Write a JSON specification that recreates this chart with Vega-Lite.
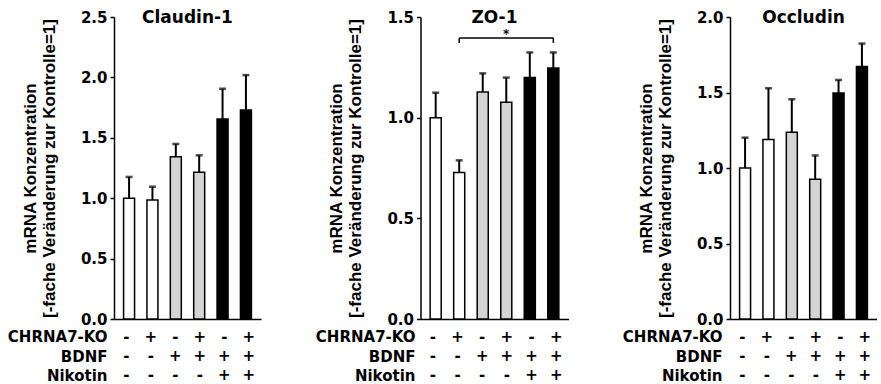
{
  "$schema": "https://vega.github.io/schema/vega-lite/v6.json",
  "padding": {"left": 7, "top": 9, "right": 0, "bottom": 0},
  "background": "white",
  "datasets": {
    "claudin": [
      {"g": "1", "grp": "Kontrolle", "mean": 1.0, "upper": 1.176},
      {"g": "2", "grp": "Kontrolle", "mean": 0.986, "upper": 1.095},
      {"g": "3", "grp": "BDNF", "mean": 1.344, "upper": 1.449},
      {"g": "4", "grp": "BDNF", "mean": 1.215, "upper": 1.355},
      {"g": "5", "grp": "BDNF + Nikotin", "mean": 1.655, "upper": 1.906},
      {"g": "6", "grp": "BDNF + Nikotin", "mean": 1.73, "upper": 2.019}
    ],
    "zo1": [
      {"g": "1", "grp": "Kontrolle", "mean": 1.0, "upper": 1.124},
      {"g": "2", "grp": "Kontrolle", "mean": 0.728, "upper": 0.788},
      {"g": "3", "grp": "BDNF", "mean": 1.128, "upper": 1.22},
      {"g": "4", "grp": "BDNF", "mean": 1.076, "upper": 1.199},
      {"g": "5", "grp": "BDNF + Nikotin", "mean": 1.2, "upper": 1.324},
      {"g": "6", "grp": "BDNF + Nikotin", "mean": 1.247, "upper": 1.324}
    ],
    "occludin": [
      {"g": "1", "grp": "Kontrolle", "mean": 1.0, "upper": 1.201},
      {"g": "2", "grp": "Kontrolle", "mean": 1.188, "upper": 1.528},
      {"g": "3", "grp": "BDNF", "mean": 1.237, "upper": 1.456},
      {"g": "4", "grp": "BDNF", "mean": 0.925, "upper": 1.083},
      {"g": "5", "grp": "BDNF + Nikotin", "mean": 1.497, "upper": 1.583},
      {"g": "6", "grp": "BDNF + Nikotin", "mean": 1.673, "upper": 1.824}
    ],
    "bracket": [
      {"x": "2", "x2": "6", "y": 1.396, "y2": 1.396},
      {"x": "2", "x2": "2", "y": 1.371, "y2": 1.396},
      {"x": "6", "x2": "6", "y": 1.371, "y2": 1.396}
    ],
    "star": [{"x": "4", "y": 1.414, "label": "*"}],
    "table": [
      {"g": "1", "factor": "CHRNA7-KO", "sign": "-"},
      {"g": "2", "factor": "CHRNA7-KO", "sign": "+"},
      {"g": "3", "factor": "CHRNA7-KO", "sign": "-"},
      {"g": "4", "factor": "CHRNA7-KO", "sign": "+"},
      {"g": "5", "factor": "CHRNA7-KO", "sign": "-"},
      {"g": "6", "factor": "CHRNA7-KO", "sign": "+"},
      {"g": "1", "factor": "BDNF", "sign": "-"},
      {"g": "2", "factor": "BDNF", "sign": "-"},
      {"g": "3", "factor": "BDNF", "sign": "+"},
      {"g": "4", "factor": "BDNF", "sign": "+"},
      {"g": "5", "factor": "BDNF", "sign": "+"},
      {"g": "6", "factor": "BDNF", "sign": "+"},
      {"g": "1", "factor": "Nikotin", "sign": "-"},
      {"g": "2", "factor": "Nikotin", "sign": "-"},
      {"g": "3", "factor": "Nikotin", "sign": "-"},
      {"g": "4", "factor": "Nikotin", "sign": "-"},
      {"g": "5", "factor": "Nikotin", "sign": "+"},
      {"g": "6", "factor": "Nikotin", "sign": "+"}
    ]
  },
  "config": {
    "view": {"stroke": null},
    "axis": {
      "domainColor": "black", "tickColor": "black", "labelColor": "black", "titleColor": "black",
      "domainWidth": 1.5, "tickWidth": 1.5, "tickSize": 4, "grid": false,
      "labelFont": "DejaVu Sans", "labelFontWeight": "bold", "labelFontSize": 15, "labelPadding": 3
    },
    "title": {"font": "DejaVu Sans", "fontWeight": "bold", "fontSize": 17, "color": "black", "anchor": "middle", "frame": "group", "offset": -17},
    "text": {"font": "DejaVu Sans", "fontWeight": "bold", "color": "black"}
  },
  "resolve": {"scale": {"x": "independent", "y": "independent"}},
  "spacing": 53.5,
  "hconcat": [
    {
      "spacing": -4,
      "resolve": {"scale": {"y": "independent"}},
      "vconcat": [
        {
          "width": 147, "height": 302,
          "title": "Claudin-1",
          "data": {"name": "claudin"},
          "encoding": {
            "x": {"field": "g", "type": "nominal", "scale": {"domain": ["1","2","3","4","5","6"], "paddingInner": 0.53, "paddingOuter": 0.41}, "axis": {"labels": false, "ticks": false, "title": null}}
          },
          "layer": [
            {"mark": {"type": "bar", "stroke": "black", "strokeWidth": 1.5},
             "encoding": {
               "y": {"field": "mean", "type": "quantitative", "scale": {"domain": [0, 2.5], "nice": false},
                     "axis": {"values": [0, 0.5, 1, 1.5, 2, 2.5], "format": ".1f", "title": ["mRNA Konzentration", "[-fache Veränderung zur Kontrolle=1]"], "titleFont": "Liberation Sans", "titleFontSize": 17, "titleFontWeight": "bold", "titleLineHeight": 19, "titlePadding": 22}},
               "fill": {"field": "grp", "type": "nominal", "scale": {"domain": ["Kontrolle", "BDNF", "BDNF + Nikotin"], "range": ["white", "#d4d4d4", "black"]}, "legend": null}
             }},
            {"mark": {"type": "rule", "color": "black", "strokeWidth": 2},
             "encoding": {"y": {"field": "mean", "type": "quantitative"}, "y2": {"field": "upper"}}},
            {"mark": {"type": "tick", "color": "black", "size": 7, "thickness": 2.5, "orient": "horizontal"},
             "encoding": {"y": {"field": "upper", "type": "quantitative"}}}
          ]
        },
        {
          "width": 147, "height": 58,
          "data": {"name": "table"},
          "mark": {"type": "text", "fontSize": 15, "baseline": "middle"},
          "encoding": {
            "x": {"field": "g", "type": "nominal", "scale": {"domain": ["1","2","3","4","5","6"], "paddingInner": 0.53, "paddingOuter": 0.41}, "axis": null},
            "y": {"field": "factor", "type": "nominal", "scale": {"domain": ["CHRNA7-KO", "BDNF", "Nikotin"], "paddingInner": 0, "paddingOuter": 0}, "axis": {"domain": false, "ticks": false, "title": null, "labelPadding": 7}},
            "text": {"field": "sign"}
          }
        }
      ]
    },
    {
      "spacing": -4,
      "resolve": {"scale": {"y": "independent"}},
      "vconcat": [
        {
          "width": 148, "height": 302,
          "title": "ZO-1",
          "encoding": {
            "x": {"field": "g", "type": "nominal", "scale": {"domain": ["1","2","3","4","5","6"], "paddingInner": 0.53, "paddingOuter": 0.41}, "axis": {"labels": false, "ticks": false, "title": null}}
          },
          "layer": [
            {"data": {"name": "zo1"}, "mark": {"type": "bar", "stroke": "black", "strokeWidth": 1.5},
             "encoding": {
               "y": {"field": "mean", "type": "quantitative", "scale": {"domain": [0, 1.5], "nice": false},
                     "axis": {"values": [0, 0.5, 1, 1.5], "format": ".1f", "title": ["mRNA Konzentration", "[-fache Veränderung zur Kontrolle=1]"], "titleFont": "Liberation Sans", "titleFontSize": 17, "titleFontWeight": "bold", "titleLineHeight": 19, "titlePadding": 22}},
               "fill": {"field": "grp", "type": "nominal", "scale": {"domain": ["Kontrolle", "BDNF", "BDNF + Nikotin"], "range": ["white", "#d4d4d4", "black"]}, "legend": null}
             }},
            {"data": {"name": "zo1"}, "mark": {"type": "rule", "color": "black", "strokeWidth": 2},
             "encoding": {"y": {"field": "mean", "type": "quantitative"}, "y2": {"field": "upper"}}},
            {"data": {"name": "zo1"}, "mark": {"type": "tick", "color": "black", "size": 7, "thickness": 2.5, "orient": "horizontal"},
             "encoding": {"y": {"field": "upper", "type": "quantitative"}}},
            {"data": {"name": "bracket"}, "mark": {"type": "rule", "color": "black", "strokeWidth": 1.5},
             "encoding": {"x": {"field": "x", "type": "nominal"}, "x2": {"field": "x2"}, "y": {"field": "y", "type": "quantitative"}, "y2": {"field": "y2"}}},
            {"data": {"name": "star"}, "mark": {"type": "text", "fontSize": 12, "baseline": "middle"},
             "encoding": {"x": {"field": "x", "type": "nominal"}, "y": {"field": "y", "type": "quantitative"}, "text": {"field": "label"}}}
          ]
        },
        {
          "width": 148, "height": 58,
          "data": {"name": "table"},
          "mark": {"type": "text", "fontSize": 15, "baseline": "middle"},
          "encoding": {
            "x": {"field": "g", "type": "nominal", "scale": {"domain": ["1","2","3","4","5","6"], "paddingInner": 0.53, "paddingOuter": 0.41}, "axis": null},
            "y": {"field": "factor", "type": "nominal", "scale": {"domain": ["CHRNA7-KO", "BDNF", "Nikotin"], "paddingInner": 0, "paddingOuter": 0}, "axis": {"domain": false, "ticks": false, "title": null, "labelPadding": 5.5}},
            "text": {"field": "sign"}
          }
        }
      ]
    },
    {
      "spacing": -4,
      "resolve": {"scale": {"y": "independent"}},
      "vconcat": [
        {
          "width": 147, "height": 302,
          "title": "Occludin",
          "data": {"name": "occludin"},
          "encoding": {
            "x": {"field": "g", "type": "nominal", "scale": {"domain": ["1","2","3","4","5","6"], "paddingInner": 0.53, "paddingOuter": 0.41}, "axis": {"labels": false, "ticks": false, "title": null}}
          },
          "layer": [
            {"mark": {"type": "bar", "stroke": "black", "strokeWidth": 1.5},
             "encoding": {
               "y": {"field": "mean", "type": "quantitative", "scale": {"domain": [0, 2], "nice": false},
                     "axis": {"values": [0, 0.5, 1, 1.5, 2], "format": ".1f", "title": ["mRNA Konzentration", "[-fache Veränderung zur Kontrolle=1]"], "titleFont": "Liberation Sans", "titleFontSize": 17, "titleFontWeight": "bold", "titleLineHeight": 19, "titlePadding": 22}},
               "fill": {"field": "grp", "type": "nominal", "scale": {"domain": ["Kontrolle", "BDNF", "BDNF + Nikotin"], "range": ["white", "#d4d4d4", "black"]}, "legend": null}
             }},
            {"mark": {"type": "rule", "color": "black", "strokeWidth": 2},
             "encoding": {"y": {"field": "mean", "type": "quantitative"}, "y2": {"field": "upper"}}},
            {"mark": {"type": "tick", "color": "black", "size": 7, "thickness": 2.5, "orient": "horizontal"},
             "encoding": {"y": {"field": "upper", "type": "quantitative"}}}
          ]
        },
        {
          "width": 147, "height": 58,
          "data": {"name": "table"},
          "mark": {"type": "text", "fontSize": 15, "baseline": "middle"},
          "encoding": {
            "x": {"field": "g", "type": "nominal", "scale": {"domain": ["1","2","3","4","5","6"], "paddingInner": 0.53, "paddingOuter": 0.41}, "axis": null},
            "y": {"field": "factor", "type": "nominal", "scale": {"domain": ["CHRNA7-KO", "BDNF", "Nikotin"], "paddingInner": 0, "paddingOuter": 0}, "axis": {"domain": false, "ticks": false, "title": null, "labelPadding": 8}},
            "text": {"field": "sign"}
          }
        }
      ]
    }
  ]
}
